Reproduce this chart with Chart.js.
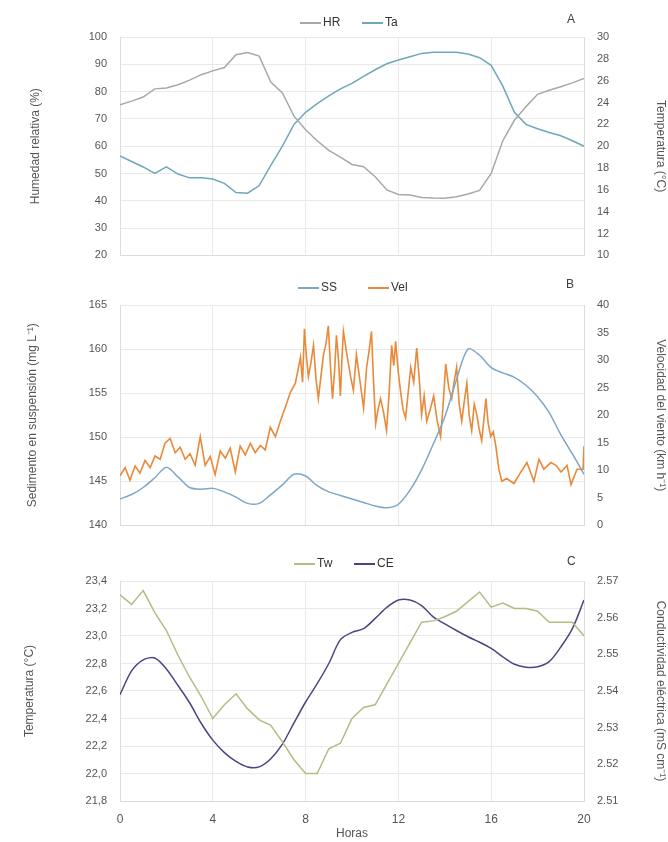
<!DOCTYPE html>
<html lang="es">
<head>
    <meta charset="UTF-8">
    <title>Variables ambientales - 24 horas</title>
    <script src="https://cdn.jsdelivr.net/npm/chart.js"></script>
    <style>
        body {
            margin: 0;
            background: white;
            font-family: "Liberation Sans", Arial, sans-serif;
        }

        .page {
            position: relative;
            width: 668px;
            height: 842px;
            overflow: hidden;
        }

        .panel {
            position: absolute;
            left: 0;
            width: 668px;
        }

        .legend-item {
            position: absolute;
            font-size: 12px;
            color: #333;
            line-height: 14px;
            white-space: nowrap;
        }

        .legend-item i {
            display: inline-block;
            width: 21px;
            height: 2px;
            margin-right: 2px;
            vertical-align: middle;
        }

        .letter {
            position: absolute;
            font-size: 12px;
            color: #404040;
        }
    </style>
</head>
<body>
    <div class="page">
        <div class="panel" style="top:0;height:275px"><canvas id="chartA"></canvas></div>
        <div class="panel" style="top:275px;height:270px"><canvas id="chartB"></canvas></div>
        <div class="panel" style="top:545px;height:297px"><canvas id="chartC"></canvas></div>

        <span class="legend-item" style="left:300px;top:15px"><i style="background:#a5a9ab"></i>HR</span>
        <span class="legend-item" style="left:362px;top:15px"><i style="background:#6fa7bb"></i>Ta</span>
        <span class="letter" style="left:567px;top:12px">A</span>

        <span class="legend-item" style="left:298px;top:280px"><i style="background:#7ea6c8"></i>SS</span>
        <span class="legend-item" style="left:368px;top:280px"><i style="background:#e9893a"></i>Vel</span>
        <span class="letter" style="left:566px;top:277px">B</span>

        <span class="legend-item" style="left:294px;top:556px"><i style="background:#b6bb82"></i>Tw</span>
        <span class="legend-item" style="left:354px;top:556px"><i style="background:#4a4683"></i>CE</span>
        <span class="letter" style="left:567px;top:554px">C</span>
    </div>

    <script>
        // Time axis (hours)
        const hours = [0, 0.5, 1, 1.5, 2, 2.5, 3, 3.5, 4, 4.5, 5, 5.5, 6, 6.5, 7, 7.5, 8, 8.5, 9, 9.5,
            10, 10.5, 11, 11.5, 12, 12.5, 13, 13.5, 14, 14.5, 15, 15.5, 16, 16.5, 17, 17.5, 18, 18.5, 19, 19.5, 20];
        const xTickHours = [0, 4, 8, 12, 16, 20];
        const xTickLabels = ['0', '4', '8', '12', '16', '20'];

        // A: relative humidity (%) and air temperature (°C)
        const humidity = [75.2, 76.5, 78, 81, 81.3, 82.5, 84.2, 86.2, 87.6, 88.8, 93.5, 94.3, 93, 83.5, 79.5, 71, 66, 62, 58.5, 56,
            53.3, 52.5, 48.8, 44, 42.3, 42.1, 41.2, 41, 40.9, 41.5, 42.5, 43.8, 50, 62, 69.5, 74.5, 79, 80.5, 81.8, 83.2, 84.8];
        const airTemp = [19.1, 18.6, 18.1, 17.5, 18.1, 17.45, 17.1, 17.1, 17.0, 16.6, 15.75, 15.7, 16.4, 18.25, 20, 22, 23.1, 23.9, 24.6, 25.25,
            25.75, 26.4, 27, 27.55, 27.9, 28.2, 28.5, 28.6, 28.6, 28.6, 28.45, 28.1, 27.4, 25.5, 23.1, 22, 21.6, 21.25, 20.95, 20.5, 20];

        // B: suspended sediment (mg L-1) and wind speed (km h-1)
        const sediment = [143.0, 143.5, 144.3, 145.4, 146.6, 145.5, 144.3, 144.1, 144.2, 143.8, 143.2, 142.5, 142.5, 143.5, 144.6, 145.8, 145.6, 144.5, 143.8, 143.4,
            143.0, 142.6, 142.2, 142.0, 142.4, 144.0, 146.3, 149.2, 152.3, 156.5, 160.0, 159.3, 157.9, 157.3, 156.8, 155.9, 154.6, 152.8, 150.3, 148.1, 145.8];
        const windHours = [0.00, 0.22, 0.43, 0.65, 0.86, 1.08, 1.30, 1.51, 1.73, 1.94, 2.16, 2.38, 2.59, 2.81, 3.02, 3.24, 3.46, 3.67, 3.89, 4.10,
            4.32, 4.54, 4.75, 4.97, 5.18, 5.40, 5.62, 5.83, 6.05, 6.26, 6.48, 6.70, 6.91, 7.13, 7.34, 7.56,
            7.78, 7.87, 7.95, 8.03, 8.12, 8.23, 8.34, 8.45, 8.55, 8.66, 8.77, 8.88, 8.98, 9.07, 9.16, 9.25, 9.33, 9.42, 9.50, 9.57,
            9.63, 9.78, 9.94, 10.06, 10.19, 10.35, 10.50, 10.63, 10.73, 10.84, 10.93, 11.02, 11.12, 11.23, 11.36, 11.49, 11.60, 11.71, 11.80, 11.88,
            11.99, 12.10, 12.20, 12.31, 12.42, 12.53, 12.66, 12.79, 12.90, 13.00, 13.11, 13.22, 13.37, 13.52, 13.67, 13.82, 13.93, 14.04, 14.17, 14.30,
            14.40, 14.51, 14.62, 14.73, 14.84, 14.95, 15.05, 15.16, 15.27, 15.38, 15.48, 15.59, 15.68, 15.77, 15.87, 15.98, 16.09, 16.20,
            16.33, 16.46, 16.67, 16.98, 17.28, 17.54, 17.84, 18.06, 18.27, 18.57, 18.79, 19.01, 19.27, 19.44, 19.70, 19.96, 20.0];
        const windSpeed = [9.0, 10.5, 8.2, 10.8, 9.5, 11.8, 10.5, 12.6, 12.0, 14.9, 15.8, 13.2, 14.2, 12.0, 13.0, 10.9, 16.1, 10.9, 12.5, 9.2,
            13.5, 12.2, 14.0, 9.7, 14.4, 12.8, 14.9, 13.2, 14.5, 13.7, 17.8, 16.1, 18.9, 21.5, 24.1, 25.8,
            30.5, 26.0, 35.7, 31.0, 27.0, 29.5, 32.7, 26.5, 23.0, 27.0, 31.0, 33.0, 36.2, 29.0, 23.0, 28.0, 34.5, 30.0, 23.5, 30.5,
            35.2, 31.0, 27.0, 24.5, 31.0, 26.0, 21.3, 28.7, 31.5, 35.2, 26.0, 18.4, 21.0, 23.0, 20.5, 17.2, 24.0, 32.7, 29.0, 33.4,
            28.0, 24.1, 21.0, 19.5, 24.0, 28.7, 26.0, 32.2, 26.5, 20.1, 23.5, 18.9, 21.0, 23.5, 19.0, 16.1, 22.0, 29.3, 25.0, 23.0,
            26.0, 28.7, 22.0, 18.9, 22.5, 25.8, 20.0, 17.2, 22.0, 20.1, 17.5, 15.4, 19.0, 23.0, 18.5, 16.1, 17.0, 14.4,
            10.2, 8.0, 8.5, 7.6, 9.7, 11.4, 8.0, 12.0, 10.2, 11.4, 10.9, 9.7, 10.9, 7.4, 10.2, 10.2, 14.4];

        // C: water temperature (°C) and electrical conductivity
        const waterTemp = [23.30, 23.23, 23.33, 23.17, 23.04, 22.86, 22.70, 22.56, 22.40, 22.50, 22.58, 22.47, 22.39, 22.35, 22.23, 22.10, 22.00, 22.00, 22.18, 22.22,
            22.40, 22.48, 22.50, 22.65, 22.80, 22.95, 23.10, 23.11, 23.14, 23.18, 23.25, 23.32, 23.21, 23.24, 23.20, 23.20, 23.18, 23.10, 23.10, 23.10, 23.00];
        const conductivity = [2.539, 2.5455, 2.5485, 2.549, 2.546, 2.5415, 2.5368, 2.5312, 2.5266, 2.5232, 2.5208, 2.5193, 2.5193, 2.5215, 2.5255, 2.5313, 2.537, 2.542, 2.5475, 2.554,
            2.556, 2.557, 2.5598, 2.5628, 2.5648, 2.5648, 2.5633, 2.5602, 2.5583, 2.5565, 2.5548, 2.5533, 2.5516, 2.5493, 2.5473, 2.5465, 2.5466, 2.548, 2.552, 2.557, 2.5648];

        // Axis ticks
        const humidityTicks = [20, 30, 40, 50, 60, 70, 80, 90, 100];
        const airTempTicks = [10, 12, 14, 16, 18, 20, 22, 24, 26, 28, 30];
        const sedimentTicks = [140, 145, 150, 155, 160, 165];
        const windTicks = [0, 5, 10, 15, 20, 25, 30, 35, 40];
        const waterTempTicks = [21.8, 22.0, 22.2, 22.4, 22.6, 22.8, 23.0, 23.2, 23.4];
        const condTicks = [2.51, 2.52, 2.53, 2.54, 2.55, 2.56, 2.57];

        const gridColor = '#e9e9e9';
        const textColor = '#555';

        function points(xs, ys) {
            return xs.map((x, i) => ({ x: x, y: ys[i] }));
        }

        function line(label, xs, ys, color, axis, tension, width) {
            return {
                label: label,
                data: points(xs, ys),
                borderColor: color,
                borderWidth: width || 1.5,
                pointRadius: 0,
                tension: tension,
                yAxisID: axis
            };
        }

        function yAxis(position, ticks, title, fmt, titlePad) {
            const left = position === 'left';
            return {
                type: 'linear',
                position: position,
                min: ticks[0],
                max: ticks[ticks.length - 1],
                afterBuildTicks: s => { s.ticks = ticks.map(v => ({ value: v })); },
                afterFit: s => { s.width = left ? 120 : 84; },
                grid: { drawOnChartArea: left, drawTicks: false, color: gridColor },
                border: { color: '#dcdcdc' },
                ticks: { padding: 13, color: textColor, font: { size: 11 }, callback: v => fmt(v) },
                title: { display: true, text: title, color: textColor, font: { size: 12 }, padding: titlePad }
            };
        }

        function xAxis(showLabels, height) {
            return {
                type: 'linear',
                min: 0,
                max: 20,
                afterBuildTicks: s => { s.ticks = xTickHours.map(v => ({ value: v })); },
                afterFit: s => { s.height = height; },
                grid: { color: gridColor, drawTicks: false },
                border: { color: '#dcdcdc' },
                ticks: {
                    display: showLabels, padding: 11, maxRotation: 0, autoSkip: false,
                    color: textColor, font: { size: 12 },
                    callback: (v, i) => xTickLabels[i]
                },
                title: { display: showLabels, text: 'Horas', color: textColor, font: { size: 12 }, padding: 1 }
            };
        }

        function makeChart(id, datasets, scales, padTop) {
            return new Chart(document.getElementById(id), {
                type: 'line',
                data: { datasets: datasets },
                options: {
                    responsive: true,
                    maintainAspectRatio: false,
                    animation: false,
                    layout: { padding: { top: padTop, left: 0, right: 0, bottom: 0 } },
                    plugins: { legend: { display: false }, tooltip: { enabled: false } },
                    scales: scales
                }
            });
        }

        const fmtInt = v => String(v);
        const fmtComma = v => v.toFixed(1).replace('.', ',');
        const fmtCond = v => v.toFixed(2);

        // Panel A
        makeChart('chartA', [
            line('HR', hours, humidity, '#a5a9ab', 'y', 0),
            line('Ta', hours, airTemp, '#6fa7bb', 'y1', 0)
        ], {
            x: xAxis(false, 12),
            y: yAxis('left', humidityTicks, 'Humedad relativa (%)', fmtInt, 28),
            y1: yAxis('right', airTempTicks, 'Temperatura (°C)', fmtInt, 0)
        }, 37);

        // Panel B
        makeChart('chartB', [
            line('SS', hours, sediment, '#7ea6c8', 'y', 0.3),
            line('Vel', windHours, windSpeed, '#e9893a', 'y1', 0, 1.6)
        ], {
            x: xAxis(false, 9),
            y: yAxis('left', sedimentTicks, 'Sedimento en suspensión (mg L⁻¹)', fmtInt, 25),
            y1: yAxis('right', windTicks, 'Velocidad del viento (km h⁻¹)', fmtInt, 0)
        }, 30);

        // Panel C
        makeChart('chartC', [
            line('Tw', hours, waterTemp, '#b6bb82', 'y', 0),
            line('CE', hours, conductivity, '#4a4683', 'y1', 0.3)
        ], {
            x: xAxis(true, 41),
            y: yAxis('left', waterTempTicks, 'Temperatura (°C)', fmtComma, 22),
            y1: yAxis('right', condTicks, 'Conductividad eléctrica (mS cm⁻¹)', fmtCond, 0)
        }, 36);
    </script>
</body>
</html>
